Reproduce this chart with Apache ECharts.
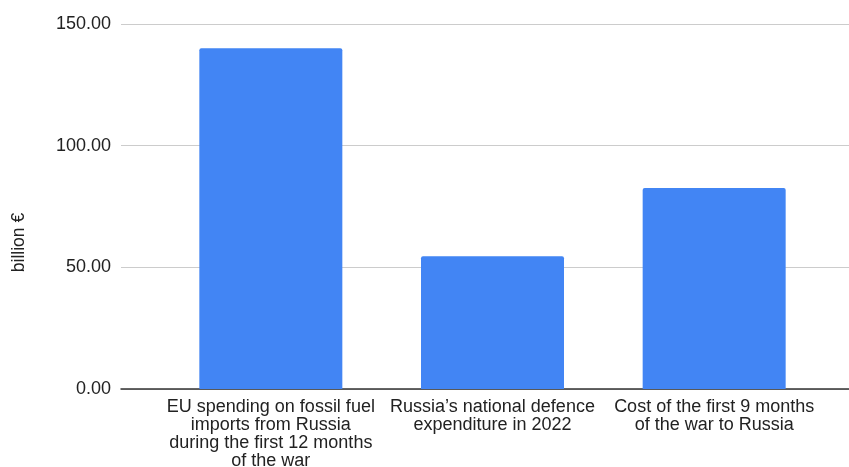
<!DOCTYPE html>
<html>
<head>
<meta charset="utf-8">
<script src="https://cdn.jsdelivr.net/npm/echarts@6/dist/echarts.min.js"></script>
<style>
  html, body { margin: 0; padding: 0; background: #fff; }
  #chart { width: 849px; height: 467px; }
</style>
</head>
<body>
<div id="chart"></div>
<script>
const categories = [
    'EU spending on fossil fuel\nimports from Russia\nduring the first 12 months\nof the war',
    'Russia\u2019s national defence\nexpenditure in 2022',
    'Cost of the first 9 months\nof the war to Russia'
];
const values = [140, 54.6, 82.6];
const yTicks = [0, 50, 100, 150];

const font = '"Liberation Sans", Arial, Helvetica, sans-serif';
const chart = echarts.init(document.getElementById('chart'));

const option = {
    animation: false,
    textStyle: {fontFamily: font},
    grid: [
        {left: 121, right: 0, top: 24, bottom: 78, outerBoundsMode: 'none', containLabel: false},
        {left: 160, right: 24, top: 24, bottom: 78, outerBoundsMode: 'none', containLabel: false}
    ],
    xAxis: [
        {
            gridIndex: 0,
            type: 'value',
            min: 0,
            max: 1,
            axisLine: {show: true, onZero: false, lineStyle: {color: '#333', width: 1.5}},
            axisTick: {show: false},
            axisLabel: {show: false},
            splitLine: {show: false}
        },
        {
            gridIndex: 1,
            type: 'category',
            data: categories,
            axisLine: {show: false},
            axisTick: {show: false},
            axisLabel: {
                margin: 9,
                interval: 0,
                color: '#222',
                fontSize: 18,
                lineHeight: 18,
                fontFamily: font
            }
        }
    ],
    yAxis: [
        {
            gridIndex: 0,
            type: 'value',
            min: yTicks[0],
            max: yTicks[yTicks.length - 1],
            interval: 50,
            name: 'billion \u20ac',
            nameLocation: 'middle',
            nameGap: 93,
            nameRotate: 90,
            nameTextStyle: {color: '#222', fontSize: 17.5, fontFamily: font, padding: [0, 72, 0, 0]},
            axisLine: {show: false},
            axisTick: {show: false},
            axisLabel: {
                margin: 10,
                color: '#222',
                fontSize: 18,
                fontFamily: font,
                formatter: v => v.toFixed(2)
            },
            splitLine: {lineStyle: {color: '#cccccc', width: 1}}
        },
        {
            gridIndex: 1,
            type: 'value',
            min: yTicks[0],
            max: yTicks[yTicks.length - 1],
            show: false,
            splitLine: {show: false}
        }
    ],
    series: [
        {
            type: 'bar',
            xAxisIndex: 1,
            yAxisIndex: 1,
            data: values,
            barWidth: 143,
            itemStyle: {color: '#4285f4', borderRadius: [2, 2, 0, 0]}
        }
    ]
};

chart.setOption(option);
</script>
</body>
</html>
